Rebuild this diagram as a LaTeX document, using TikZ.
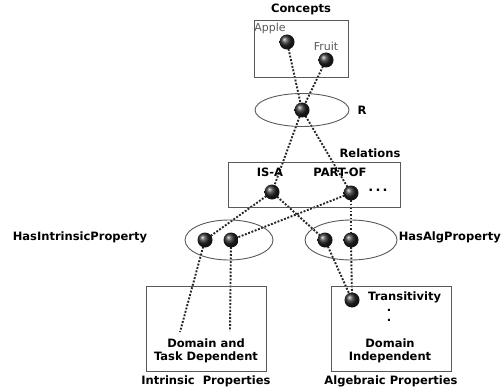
\documentclass[tikz,border=0pt]{standalone}
\usepackage{fontspec}
\setmainfont{DejaVu Sans}
\usetikzlibrary{backgrounds}
\begin{document}
\begin{tikzpicture}[x=1pt,y=-1pt,
  ballnode/.style={circle,minimum size=15pt,inner sep=0pt,shading=ball,ball color=black!85},
  conn/.style={line width=1.9pt,dash pattern=on 1.9pt off 1.6pt,black!85},
  frame/.style={draw=black!65,line width=0.9pt,fill=none,inner sep=0pt},
  oval/.style={draw=black!65,line width=0.9pt},
  lbl/.style={font=\bfseries\fontsize{11.5}{13.5}\selectfont,inner sep=0pt,align=center},
  glbl/.style={font=\fontsize{11}{12}\selectfont,text=black!65,inner sep=0pt}]
\useasboundingbox (0,0) rectangle (502,390);
% boxes
\node[frame,minimum width=94pt,minimum height=57pt] (concepts) at (301,48.5) {};
\node[frame,minimum width=172pt,minimum height=45pt] (relations) at (314,184.5) {};
\node[frame,minimum width=120pt,minimum height=85pt] (intr) at (206,328.5) {};
\node[frame,minimum width=120pt,minimum height=85pt] (alg) at (391,328.5) {};
% ovals
\draw[oval] (302,110) ellipse [x radius=47, y radius=16.5];
\draw[oval] (229,240) ellipse [x radius=44, y radius=20];
\draw[oval] (351,240) ellipse [x radius=46, y radius=20];
% labels
\node[lbl] (tconcepts) at (301,9) {Concepts};
\node[glbl] (tapple) at (270,28) {Apple};
\node[glbl] (tfruit) at (326,46) {Fruit};
\node[lbl] (tr) at (362,110) {R};
\node[lbl] (trel) at (370,153) {Relations};
\node[lbl] (tisa) at (270,172) {IS-A};
\node[lbl] (tpart) at (340,172) {PART-OF};
\node[lbl,font=\bfseries\fontsize{13}{13}\selectfont] (tdots) at (378,190) {.\,.\,.};
\node[lbl] (thip) at (80,237) {HasIntrinsicProperty};
\node[lbl,anchor=east] (thap) at (501,237) {HasAlgProperty};
\node[lbl] (tdtd) at (206,351) {Domain and\\Task Dependent};
\node[lbl] (tdi) at (390,351) {Domain\\Independent};
\node[lbl] (tip) at (206,381) {Intrinsic~~Properties};
\node[lbl] (tap) at (391,381) {Algebraic Properties};
\node[lbl,anchor=west] (ttrans) at (368,297) {Transitivity};
\node[lbl,font=\bfseries\fontsize{11.5}{10}\selectfont] (tvd) at (389,315) {.\\.};
% balls
\node[ballnode] (apple) at (287,42) {};
\node[ballnode] (fruit) at (326,60) {};
\node[ballnode] (r) at (302,110) {};
\node[ballnode] (isa) at (272,192) {};
\node[ballnode] (part) at (351,193) {};
\node[ballnode] (h1) at (205,240) {};
\node[ballnode] (h2) at (231,240) {};
\node[ballnode] (a1) at (325,240) {};
\node[ballnode] (a2) at (351,240) {};
\node[ballnode] (trans) at (352,300) {};
\coordinate (e1) at (180,332);
\coordinate (e2) at (230,331);
\begin{scope}[on background layer]
\draw[conn] (apple.center) -- (r.center);
\draw[conn] (fruit.center) -- (r.center);
\draw[conn] (r.center) -- (isa.center);
\draw[conn] (r.center) -- (part.center);
\draw[conn] (isa.center) -- (h1.center);
\draw[conn] (part.center) -- (h2.center);
\draw[conn] (isa.center) -- (a1.center);
\draw[conn] (part.center) -- (a2.center);
\draw[conn] (h1.center) -- (e1);
\draw[conn] (h2.center) -- (e2);
\draw[conn] (a1.center) -- (trans.center);
\draw[conn] (a2.center) -- (trans.center);
\end{scope}
\end{tikzpicture}
\end{document}
